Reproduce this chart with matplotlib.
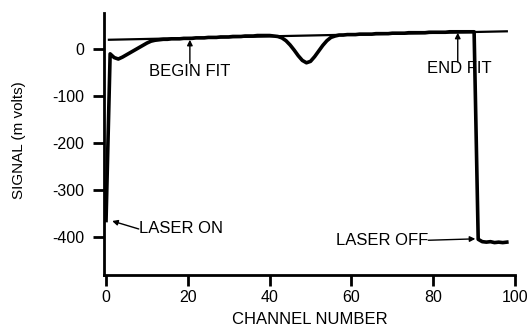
import matplotlib
matplotlib.use("Agg")
import matplotlib.pyplot as plt

plt.rcParams['font.family'] = ['Liberation Sans', 'DejaVu Sans']

channel = list(range(0, 99))
signal = [-365, -10, -18, -21, -17, -12, -7, -2, 3, 8, 13, 17, 19, 20, 21,
          21, 22, 22, 22, 23, 23, 23, 24, 24, 24, 25, 25, 25, 26, 26,
          26, 27, 27, 27, 28, 28, 28, 29, 29, 29, 29, 28, 27, 24, 18,
          9, -2, -14, -24, -29, -26, -16, -4, 8, 18, 25, 28, 30, 30, 31,
          31, 31, 32, 32, 32, 32, 33, 33, 33, 33, 34, 34, 34, 34, 35,
          35, 35, 35, 35, 36, 36, 36, 36, 36, 37, 37, 37, 37, 37, 37,
          37, -405, -410, -411, -410, -412, -411, -412, -411]

fit_x = [0.7, 98]
fit_y = [20, 38]

x_ticks = [0, 20, 40, 60, 80, 100]
y_ticks = [0, -100, -200, -300, -400]

fig = plt.figure(figsize=(5.29, 3.32), dpi=100)
ax = fig.add_axes([104/529, 57/332, 411/529, 262/332])

ax.plot(fit_x, fit_y, color='black', lw=1.6)
ax.plot(channel, signal, color='black', lw=2.6, solid_joinstyle='round')

ax.set_xlim(-0.5, 100)
ax.set_ylim(-481, 77)
ax.set_xticks(x_ticks)
ax.set_yticks(y_ticks)
ax.set_yticklabels([str(v) for v in y_ticks])
for s in ['top', 'right']:
    ax.spines[s].set_visible(False)
for s in ['left', 'bottom']:
    ax.spines[s].set_linewidth(2)
ax.tick_params(axis='both', direction='out', length=8, width=2,
               labelsize=11.5)
ax.tick_params(axis='y', pad=6)
ax.tick_params(axis='x', pad=3)

ax.set_xlabel('CHANNEL NUMBER', fontsize=12, labelpad=5)
ax.set_ylabel('SIGNAL (m volts)', fontsize=11)
ax.yaxis.set_label_coords(-0.19, 0.515)

arrow = dict(arrowstyle='-|>', color='black', lw=1.0, mutation_scale=8,
             shrinkA=0, shrinkB=0)
ax.text(20.5, -47, 'BEGIN FIT', ha='center', va='center', fontsize=12)
ax.annotate('', xy=(20.5, 20), xytext=(20.5, -30), arrowprops=arrow)
ax.annotate('', xy=(86, 35), xytext=(86, -27), arrowprops=arrow)
ax.text(86.5, -42, 'END FIT', ha='center', va='center', fontsize=12)
ax.annotate('', xy=(1.5, -366), xytext=(8, -383), arrowprops=arrow)
ax.text(8, -383, 'LASER ON', ha='left', va='center', fontsize=12)
ax.annotate('', xy=(90.3, -404), xytext=(78.8, -407), arrowprops=arrow)
ax.text(78.8, -407, 'LASER OFF', ha='right', va='center', fontsize=12)

fig.savefig('out.png', dpi=100)
